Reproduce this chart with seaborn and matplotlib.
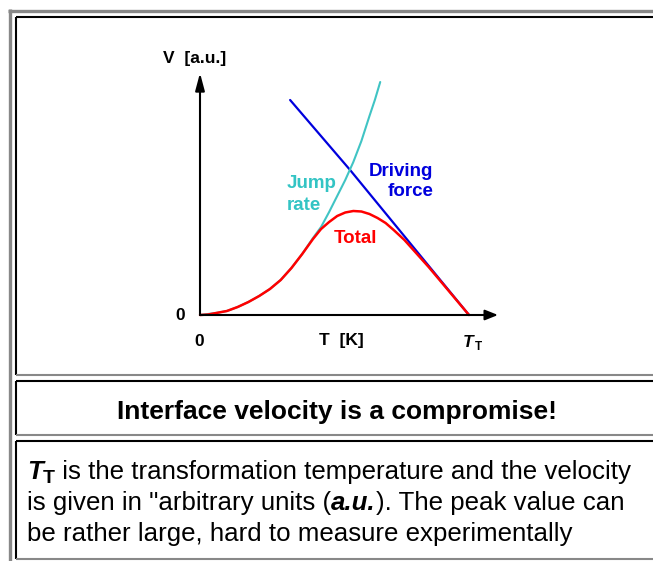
import numpy as np
import pandas as pd
import seaborn as sns
import matplotlib.pyplot as plt
from matplotlib.lines import Line2D

# curve values: T in units of T_T, V in a.u.
drive_T = [0.335, 0.558, 1.0]
drive_V = [2.15, 1.45, 0.0]

jump_T = [0.00, 0.06, 0.10, 0.14, 0.18, 0.22, 0.26, 0.30, 0.34, 0.38,
          0.42, 0.45, 0.48, 0.51, 0.54, 0.57, 0.60, 0.63, 0.65, 0.67]
jump_V = [0.00, 0.02, 0.04, 0.08, 0.13, 0.19, 0.26, 0.35, 0.47, 0.61,
          0.77, 0.88, 1.03, 1.19, 1.35, 1.53, 1.74, 1.99, 2.15, 2.33]

total_T = [0.00, 0.03, 0.06, 0.10, 0.14, 0.18, 0.22, 0.26, 0.30, 0.34,
           0.38, 0.42, 0.45, 0.48, 0.51, 0.54, 0.57, 0.60, 0.63, 0.66,
           0.69, 0.72, 0.76, 0.80, 0.85, 0.90, 0.95, 1.00]
total_V = [0.000, 0.005, 0.02, 0.04, 0.08, 0.13, 0.19, 0.26, 0.35, 0.47,
           0.61, 0.76, 0.86, 0.93, 0.99, 1.025, 1.04, 1.035, 1.01, 0.97,
           0.92, 0.85, 0.75, 0.63, 0.48, 0.32, 0.16, 0.00]

caption = "Interface velocity is a compromise!"

sns.set_style("white")
plt.rcParams['font.family'] = ['Liberation Sans', 'DejaVu Sans']
plt.rcParams['text.color'] = 'black'

W, H = 653, 561
fig = plt.figure(figsize=(W / 100, H / 100), dpi=100)

def fx(x):
    return x / W

def fy(y):
    return 1 - y / H

# page frame and table boxes
def hline(x0, x1, y, color, lw):
    fig.add_artist(Line2D([fx(x0), fx(x1)], [fy(y), fy(y)], color=color, lw=lw,
                          solid_capstyle='butt'))

def vline(x, y0, y1, color, lw):
    fig.add_artist(Line2D([fx(x), fx(x)], [fy(y0), fy(y1)], color=color, lw=lw,
                          solid_capstyle='butt'))

gray = '#888888'
hline(8, 660, 10.5, gray, 2.4)
vline(9.5, 9, 565, gray, 2.4)
for top, bottom in [(17, 375), (381, 435), (441, 559)]:
    hline(15.5, 660, top, 'black', 1.5)
    vline(16, top, bottom, 'black', 1.5)
    hline(16, 660, bottom, gray, 1.5)

# chart
x_px0, x_px1, y_px0, y_px1 = 200, 498, 315, 73
ax = fig.add_axes([fx(x_px0), fy(y_px0), (x_px1 - x_px0) / W, (y_px0 - y_px1) / H])
ax.set_xlim(0, (x_px1 - x_px0) / 269)
ax.set_ylim(0, (y_px0 - y_px1) / 100)
for s in ax.spines.values():
    s.set_visible(False)
ax.set_facecolor('none')

sns.lineplot(x=drive_T, y=drive_V, ax=ax, color='#0000dd', linewidth=1.6,
             sort=False, estimator=None)
sns.lineplot(x=jump_T, y=jump_V, ax=ax, color='#40c4c4', linewidth=1.5,
             sort=False, estimator=None)
sns.lineplot(x=total_T, y=total_V, ax=ax, color='#ff0000', linewidth=1.8,
             sort=False, estimator=None)
for ln in ax.lines:
    ln.set_clip_on(False)
ax.set_xlabel('')
ax.set_ylabel('')

ax.annotate('', xy=(1, 0), xytext=(0, 0), xycoords='axes fraction',
            arrowprops=dict(arrowstyle='-|>,head_length=0.55,head_width=0.22',
                            color='black', lw=1.5, shrinkA=0, shrinkB=0,
                            mutation_scale=14),
            annotation_clip=False)
ax.annotate('', xy=(0, 1), xytext=(0, 0), xycoords='axes fraction',
            arrowprops=dict(arrowstyle='-|>,head_length=0.75,head_width=0.2',
                            color='black', lw=1.5, shrinkA=0, shrinkB=0,
                            mutation_scale=14),
            annotation_clip=False)
ax.set_xticks([0, 1])
ax.set_yticks([0])
ax.set_xticklabels([])
ax.set_yticklabels([])
ax.tick_params(length=7.2, width=1.5, direction='out', color='black')

lab = dict(fontsize=12.5, fontweight='bold')
fig.text(fx(195), fy(59), "V  [a.u.]", ha='center', va='center', **lab)
fig.text(fx(341), fy(340), "T  [K]", ha='center', va='center', **lab)
fig.text(fx(199), fy(341), "0", ha='center', va='center', **lab)
fig.text(fx(180), fy(315), "0", ha='center', va='center', **lab)
fig.text(fx(463), fy(347), "T", ha='left', va='baseline', fontsize=12.5,
         fontweight='bold', fontstyle='italic')
fig.text(fx(475), fy(350), "T", ha='left', va='baseline', fontsize=8.5,
         fontweight='bold')

col = dict(fontsize=13.5, fontweight='bold')
fig.text(fx(287), fy(184), "Jump", ha='left', va='center', color='#33c4c4', **col)
fig.text(fx(287), fy(205), "rate", ha='left', va='center', color='#33c4c4', **col)
fig.text(fx(433), fy(172), "Driving", ha='right', va='center', color='#0000dd', **col)
fig.text(fx(433), fy(192), "force", ha='right', va='center', color='#0000dd', **col)
fig.text(fx(356), fy(238), "Total", ha='center', va='center', color='#ff0000', **col)

# caption row
fig.text(fx(337), fy(419), caption, ha='center', va='baseline',
         fontsize=19, fontweight='bold')

# paragraph with mixed styles
fig.canvas.draw()
renderer = fig.canvas.get_renderer()

def run_width(s, kw):
    a = fig.text(0, 0, "x" + s + "x", **kw)
    b = fig.text(0, 0, "xx", **kw)
    w = a.get_window_extent(renderer).width - b.get_window_extent(renderer).width
    a.remove()
    b.remove()
    return w

def draw_runs(x0, y, runs):
    x = x0
    for s, kw, dy in runs:
        fig.text(fx(x), fy(y + dy), s, ha='left', va='baseline', **kw)
        x += run_width(s, kw)

reg = dict(fontsize=18.6)
bi = dict(fontsize=18.6, fontweight='bold', fontstyle='italic')
sub = dict(fontsize=14, fontweight='bold')
draw_runs(27, 479, [("T", bi, 0), ("T", sub, 4),
                    (" is the transformation temperature and the velocity", reg, 0)])
draw_runs(27, 510, [("is given in \"arbitrary units (", reg, 0), ("a.u.", bi, 0),
                    ("). The peak value can", reg, 0)])
draw_runs(27, 541, [("be rather large, hard to measure experimentally", reg, 0)])

fig.savefig("out.png", dpi=100)
